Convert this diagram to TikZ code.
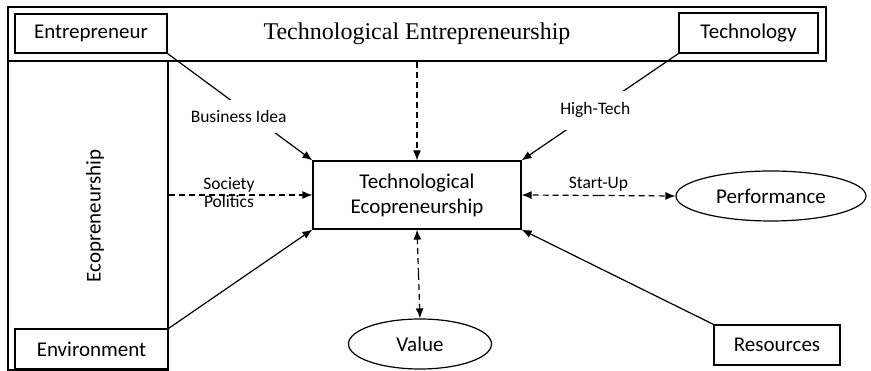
\documentclass[tikz,border=0pt]{standalone}
\usepackage{fontspec}
\setmainfont{Liberation Serif}
\setsansfont{Carlito}
\usetikzlibrary{shapes.geometric}
\usetikzlibrary{arrows.meta}

\begin{document}
\begin{tikzpicture}[x=1pt,y=1pt,>={Latex[length=10pt,width=8pt]},
	line width=1.2pt,
	box/.style={rectangle,draw,inner sep=0pt,font=\sffamily\fontsize{21}{25}\selectfont,align=center},
	frame/.style={rectangle,draw,inner sep=0pt},
	oval/.style={ellipse,draw,inner sep=0pt,font=\sffamily\fontsize{21}{25}\selectfont},
	tag/.style={font=\sffamily\fontsize{17.5}{18}\selectfont,align=center,inner sep=1pt},
	dashline/.style={dash pattern=on 6pt off 4pt}]
	
	\useasboundingbox (0,0) rectangle (871,371);
	
	% frames
	\node[frame,minimum width=818,minimum height=54,font=\rmfamily\fontsize{24}{26}\selectfont] (band) at (417,337) {Technological Entrepreneurship};
	\node[frame,minimum width=160,minimum height=309] (eco) at (88,155.5) {};
	\node[font=\sffamily\fontsize{21}{25}\selectfont,rotate=90] (ecotext) at (95,155) {Ecopreneurship};
	
	% boxes
	\node[box,fill=white,minimum width=152,minimum height=39] (ent) at (91,337.5) {Entrepreneur};
	\node[box,fill=white,minimum width=139,minimum height=40] (tech) at (748.5,338) {Technology};
	\node[box,fill=white,minimum width=153,minimum height=40] (env) at (91.5,22) {Environment};
	\node[box,minimum width=208,minimum height=68] (cen) at (417,176) {Technological\\Ecopreneurship};
	\node[box,minimum width=126,minimum height=40] (res) at (777,26) {Resources};
	\node[oval,minimum width=143,minimum height=50] (val) at (420,27) {Value};
	\node[oval,minimum width=190,minimum height=50] (perf) at (771,175) {Performance};
	
	% connectors
	\draw[->] (ent.south east) -- node[tag,pos=0.56,fill=white,xshift=-10pt,yshift=-3pt,inner ysep=10pt] {Business Idea} (cen.north west);
	\draw[->] (tech.south west) -- node[tag,pos=0.53,fill=white,inner ysep=12pt] {High-Tech} (cen.north east);
	\draw[->,dashline] (band.south) -- (cen.north);
	\draw[->,dashline] (cen.west -| eco.east) -- node[tag,pos=0.42,yshift=2pt] {Society\\Politics} (cen.west);
	\draw[->] (env.north east) -- (cen.south west);
	\draw[->] (res.north west) -- (cen.south east);
	
	% two-way links, drawn from their middle
	\path (cen.east) -- coordinate[midway] (su) node[tag,midway,above,yshift=3pt] {Start-Up} (perf.west);
	\path (cen.south) -- coordinate[midway] (vm) (val.north);
	\draw[->,dashline] (su) -- (cen.east);
	\draw[->,dashline] (su) -- (perf.west);
	\draw[->,dashline] (vm) -- (cen.south);
	\draw[->,dashline] (vm) -- (val.north);
\end{tikzpicture}
\end{document}
